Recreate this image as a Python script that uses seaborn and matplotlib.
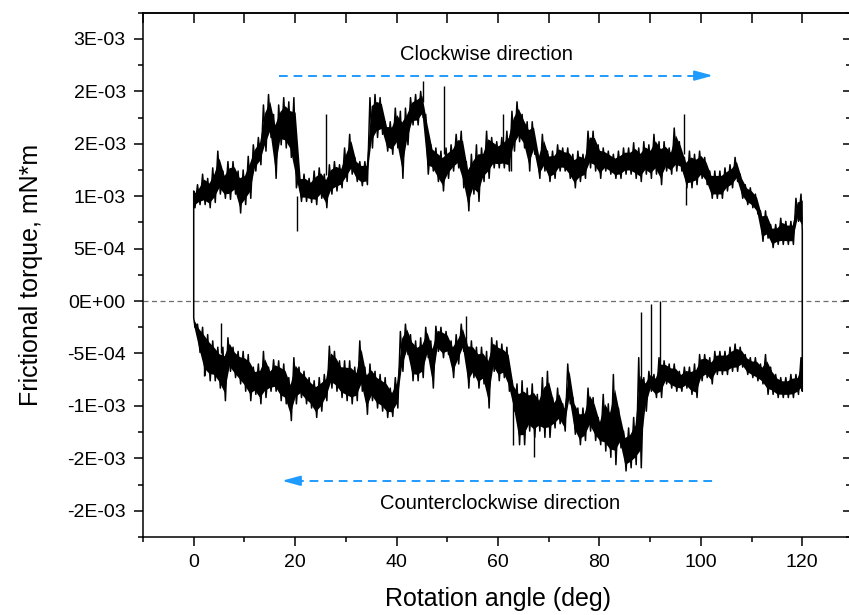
import numpy as np
import pandas as pd
import matplotlib
matplotlib.use("Agg")
import matplotlib.pyplot as plt
import seaborn as sns

# ---------------- data (values in 1e-3 mN*m) ----------------
angle = list(range(0, 121))

cw_hi = [1.05, 1.11, 1.21, 1.17, 1.27, 1.43, 1.24, 1.33, 1.33, 1.24,
         1.25, 1.38, 1.49, 1.56, 1.87, 1.97, 1.78, 1.87, 1.94, 1.90,
         1.94, 1.21, 1.21, 1.17, 1.24, 1.27, 1.21, 1.30, 1.33, 1.30,
         1.46, 1.59, 1.37, 1.33, 1.33, 1.94, 1.97, 1.94, 1.71, 1.71,
         1.84, 1.81, 1.84, 1.94, 1.97, 2.00, 1.78, 1.49, 1.46, 1.43,
         1.46, 1.49, 1.59, 1.62, 1.33, 1.40, 1.49, 1.46, 1.62, 1.56,
         1.52, 1.56, 1.62, 1.81, 1.90, 1.78, 1.71, 1.71, 1.43, 1.59,
         1.43, 1.43, 1.49, 1.46, 1.46, 1.40, 1.43, 1.40, 1.62, 1.62,
         1.49, 1.46, 1.43, 1.40, 1.43, 1.46, 1.46, 1.51, 1.46, 1.52,
         1.49, 1.59, 1.52, 1.52, 1.46, 1.65, 1.52, 1.37, 1.43, 1.40,
         1.43, 1.37, 1.24, 1.24, 1.24, 1.27, 1.30, 1.37, 1.21, 1.11,
         1.08, 1.02, 0.86, 0.86, 0.73, 0.73, 0.79, 0.76, 0.76, 0.98,
         1.02]
cw_lo = [0.89, 0.92, 0.92, 0.89, 0.94, 1.02, 0.98, 0.97, 1.02, 0.84,
         0.92, 0.98, 1.24, 1.30, 1.43, 1.56, 1.17, 1.49, 1.46, 1.37,
         1.08, 0.95, 0.95, 0.94, 0.92, 0.98, 0.89, 1.02, 1.05, 1.08,
         1.14, 1.21, 1.14, 1.10, 1.11, 1.46, 1.56, 1.59, 1.43, 1.40,
         1.46, 1.17, 1.49, 1.68, 1.68, 1.75, 1.21, 1.24, 1.14, 1.05,
         1.17, 1.24, 1.27, 1.08, 0.86, 1.02, 0.95, 1.14, 1.17, 1.27,
         1.27, 1.27, 1.24, 1.43, 1.52, 1.46, 1.24, 1.40, 1.17, 1.24,
         1.14, 1.17, 1.24, 1.24, 1.17, 1.08, 1.14, 1.17, 1.27, 1.24,
         1.17, 1.24, 1.21, 1.17, 1.17, 1.21, 1.21, 1.17, 1.14, 1.21,
         1.17, 1.21, 1.11, 1.24, 1.21, 1.24, 1.24, 1.08, 1.08, 1.11,
         1.17, 1.11, 0.98, 0.98, 0.98, 1.05, 1.08, 1.14, 0.98, 0.92,
         0.89, 0.83, 0.57, 0.60, 0.51, 0.54, 0.54, 0.54, 0.54, 0.76,
         0.67]

ccw_hi = [-0.16, -0.22, -0.25, -0.32, -0.38, -0.44, -0.44, -0.35, -0.44, -0.48,
          -0.48, -0.51, -0.63, -0.60, -0.48, -0.63, -0.56, -0.57, -0.60, -0.73,
          -0.54, -0.63, -0.67, -0.73, -0.76, -0.73, -0.70, -0.43, -0.48, -0.57,
          -0.57, -0.57, -0.63, -0.38, -0.63, -0.60, -0.67, -0.70, -0.73, -0.83,
          -0.73, -0.29, -0.22, -0.32, -0.38, -0.35, -0.25, -0.38, -0.24, -0.25,
          -0.29, -0.38, -0.32, -0.22, -0.35, -0.38, -0.44, -0.44, -0.48, -0.35,
          -0.38, -0.41, -0.44, -0.76, -0.79, -0.76, -0.83, -0.79, -0.89, -0.73,
          -0.67, -0.92, -0.83, -0.98, -0.60, -0.92, -1.02, -1.02, -0.83, -0.92,
          -1.11, -0.89, -0.98, -0.70, -1.02, -1.24, -1.21, -1.11, -0.54, -0.73,
          -0.67, -0.70, -0.54, -0.57, -0.60, -0.60, -0.67, -0.63, -0.63, -0.60,
          -0.51, -0.51, -0.54, -0.48, -0.48, -0.48, -0.44, -0.41, -0.44, -0.51,
          -0.54, -0.54, -0.60, -0.51, -0.63, -0.70, -0.73, -0.73, -0.70, -0.70,
          -0.54]
ccw_lo = [-0.25, -0.49, -0.71, -0.76, -0.76, -0.83, -0.95, -0.67, -0.73, -0.79,
          -0.86, -0.95, -0.89, -0.98, -0.92, -0.86, -0.86, -0.95, -0.98, -1.14,
          -0.98, -0.92, -0.98, -1.02, -1.11, -1.05, -0.95, -0.83, -0.86, -0.92,
          -0.95, -0.98, -0.95, -0.86, -1.08, -0.95, -1.02, -1.05, -1.11, -1.10,
          -1.02, -0.67, -0.51, -0.76, -0.76, -0.73, -0.54, -0.83, -0.48, -0.54,
          -0.51, -0.73, -0.60, -0.48, -0.83, -0.73, -0.83, -0.79, -1.02, -0.67,
          -0.76, -0.73, -0.86, -1.05, -1.37, -1.37, -1.24, -1.30, -1.24, -1.30,
          -1.30, -1.21, -1.17, -1.24, -0.98, -1.27, -1.37, -1.33, -1.24, -1.33,
          -1.37, -1.43, -1.49, -1.56, -1.40, -1.62, -1.59, -1.56, -1.59, -1.05,
          -0.86, -0.92, -0.92, -0.79, -0.83, -0.86, -0.86, -0.83, -0.89, -0.92,
          -0.76, -0.73, -0.79, -0.70, -0.70, -0.70, -0.67, -0.67, -0.63, -0.70,
          -0.73, -0.76, -0.79, -0.89, -0.89, -0.92, -0.92, -0.92, -0.92, -0.89,
          -0.86]

# isolated spikes: angle, band value, tip value
cw_spike_x = [20.3, 26.0, 45.3, 49.3, 61.0, 96.7, 97.0, 62.5]
cw_spike_from = [1.00, 1.20, 1.90, 1.40, 1.50, 1.40, 1.10, 1.50]
cw_spike_to = [0.67, 1.78, 2.10, 2.05, 1.78, 1.78, 0.92, 1.24]
ccw_spike_x = [5.3, 53.7, 63.0, 67.0, 88.1, 90.2, 91.9, 2.0]
ccw_spike_from = [-0.50, -0.35, -0.90, -1.00, -0.80, -0.75, -0.70, -0.40]
ccw_spike_to = [-0.21, -0.14, -1.37, -1.49, -0.10, -0.03, 0.00, -0.71]

y_ticks = [-2.0e-3, -1.5e-3, -1.0e-3, -5e-4, 0.0, 5e-4, 1.0e-3, 1.5e-3, 2.0e-3, 2.5e-3]
y_tick_labels = ["-2E-03", "-2E-03", "-1E-03", "-5E-04", "0E+00",
                 "5E-04", "1E-03", "2E-03", "2E-03", "3E-03"]
x_ticks = [0, 20, 40, 60, 80, 100, 120]

# ---------------- style ----------------
sns.set_style("ticks")
plt.rcParams["font.family"] = ["Liberation Sans", "DejaVu Sans"]
plt.rcParams["axes.linewidth"] = 1.1
for key in ["text.color", "axes.labelcolor", "xtick.color", "ytick.color", "axes.edgecolor"]:
    plt.rcParams[key] = "black"

fig = plt.figure(figsize=(8.49, 6.15), dpi=100)
ax = fig.add_axes([143 / 849, (615 - 537) / 615, 710 / 849, (537 - 12.7) / 615])

SCALE = 1e-3
ang = np.array(angle, dtype=float)


def zigzag(hi, lo):
    xs, ys = [0.0], [0.0]
    for a, h, l in zip(ang, hi, lo):
        xs += [max(a - 0.25, 0.0), min(a + 0.25, 120.0)]
        ys += [h * SCALE, l * SCALE]
    xs.append(120.0)
    ys.append(0.0)
    return xs, ys


frames = []
for name, hi, lo in [("cw", cw_hi, cw_lo), ("ccw", ccw_hi, ccw_lo)]:
    xs, ys = zigzag(hi, lo)
    frames.append(pd.DataFrame({"angle": xs, "torque": ys, "dir": name}))
    h = np.array(hi)
    l = np.array(lo)
    w = h - l
    # solid core of the noisy band; the zigzag trace supplies the ragged edges
    ax.fill_between(ang, (l + 0.16 * w) * SCALE, (h - 0.16 * w) * SCALE,
                    color="black", lw=0)
df = pd.concat(frames, ignore_index=True)

sns.lineplot(data=df, x="angle", y="torque", units="dir", estimator=None,
             sort=False, color="black", lw=1.1, ax=ax, legend=False)

ax.vlines(cw_spike_x, np.array(cw_spike_from) * SCALE, np.array(cw_spike_to) * SCALE,
          color="black", lw=1.0)
ax.vlines(ccw_spike_x, np.array(ccw_spike_from) * SCALE, np.array(ccw_spike_to) * SCALE,
          color="black", lw=1.0)

# zero reference line
ax.axhline(0, color="#6e6e6e", lw=0.9, ls=(0, (4, 2.8)), zorder=0.5)

# direction arrows
blue = "#1f9bff"
ax.plot([16.8, 100.0], [2.15e-3, 2.15e-3], color=blue, lw=1.4, ls=(0, (4.5, 3)))
ax.annotate("", xy=(102.4, 2.15e-3), xytext=(99.0, 2.15e-3),
            arrowprops=dict(arrowstyle="-|>,head_length=1.1,head_width=0.3",
                            color=blue, lw=1.4, shrinkA=0, shrinkB=0))
ax.plot([20.0, 102.8], [-1.714e-3, -1.714e-3], color=blue, lw=1.4, ls=(0, (4.5, 3)))
ax.annotate("", xy=(17.4, -1.714e-3), xytext=(20.8, -1.714e-3),
            arrowprops=dict(arrowstyle="-|>,head_length=1.1,head_width=0.3",
                            color=blue, lw=1.4, shrinkA=0, shrinkB=0))
ax.text(57.7, 2.352e-3, "Clockwise direction", ha="center", va="center",
        fontsize=14.5, color="black")
ax.text(60.5, -1.93e-3, "Counterclockwise direction", ha="center", va="center",
        fontsize=14.5, color="black")

# axes
ax.set_xlim(-10, 130)
ax.set_ylim(-2.25e-3, 2.75e-3)
ax.set_xticks(x_ticks)
ax.set_xticks(np.arange(-10, 131, 10), minor=True)
ax.set_yticks(y_ticks)
ax.set_yticklabels(y_tick_labels)
ax.set_yticks(np.arange(-2.25e-3, 2.76e-3, 2.5e-4), minor=True)
ax.tick_params(axis="both", which="major", direction="out", length=6.5, width=1.1,
               labelsize=14, pad=6, colors="black")
ax.tick_params(axis="both", which="minor", direction="out", length=3.5, width=1.1,
               colors="black")
ax.tick_params(axis="y", which="both", right=True)
for t in ax.yaxis.get_major_ticks():
    t.tick2line.set_marker(matplotlib.lines.TICKLEFT)
    t.tick2line.set_markersize(7.2)
for t in ax.yaxis.get_minor_ticks():
    t.tick2line.set_marker(matplotlib.lines.TICKLEFT)
    t.tick2line.set_markersize(5)

top = ax.secondary_xaxis("top")
top.set_xticks(np.arange(-10, 131, 10))
top.tick_params(direction="in", length=7.2, width=1.1, labeltop=False, colors="black")
top.xaxis.set_minor_locator(matplotlib.ticker.NullLocator())

for s in ax.spines.values():
    s.set_color("black")
    s.set_linewidth(1.1)

ax.set_xlabel("Rotation angle (deg)", fontsize=18, labelpad=11, color="black")
ax.set_ylabel("Frictional torque, mN*m", fontsize=18, labelpad=17, color="black")

fig.savefig("out.png", dpi=100)
